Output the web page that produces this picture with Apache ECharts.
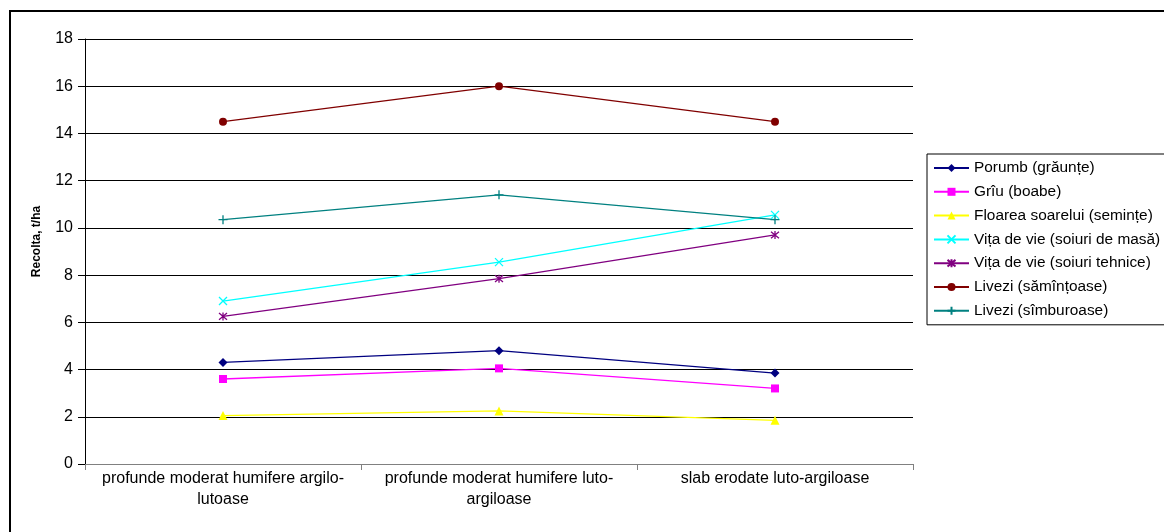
<!DOCTYPE html>
<html>
<head>
<meta charset="utf-8">
<script src="https://cdn.jsdelivr.net/npm/echarts@6/dist/echarts.min.js"></script>
<style>
    html, body { margin: 0; padding: 0; background: #fff; }
    #chart { width: 1164px; height: 532px; }
</style>
</head>
<body>
<div id="chart"></div>
<script>
// categorii (soluri)
var categories = [
    'profunde moderat humifere argilo-\nlutoase',
    'profunde moderat humifere luto-\nargiloase',
    'slab erodate luto-argiloase'
]

// recolta, t/ha
var porumb = [4.3, 4.8, 3.85]
var griu = [3.6, 4.05, 3.2]
var floarea = [2.05, 2.25, 1.85]
var vitaMasa = [6.9, 8.55, 10.55]
var vitaTehnice = [6.25, 7.85, 9.7]
var liveziSamintoase = [14.5, 16.0, 14.5]
var liveziSimburoase = [10.35, 11.4, 10.35]

var yTicks = [0, 2, 4, 6, 8, 10, 12, 14, 16, 18]

var xSymbol = 'path://M0,0L10,10M10,0L0,10'
var starSymbol = 'path://M0,0L10,10M10,0L0,10M5,-1L5,11'
var plusSymbol = 'path://M5,0L5,10M0,5L10,5'

function makeSeries(name, data, color, symbol, size, stroked) {
    return {
        name: name,
        type: 'line',
        data: data,
        symbol: symbol,
        symbolSize: size,
        lineStyle: { color: color, width: 1.3 },
        itemStyle: stroked
            ? { color: 'rgba(0,0,0,0)', borderColor: color, borderWidth: 1.3 }
            : { color: color, borderWidth: 0 },
        emphasis: { disabled: true },
        animation: false
    }
}

var chart = echarts.init(document.getElementById('chart'))

var option = {
    backgroundColor: '#fff',
    animation: false,
    textStyle: { fontFamily: 'Liberation Sans, Arial, sans-serif' },
    graphic: [{
        type: 'rect',
        shape: { x: 10, y: 11, width: 1300, height: 700 },
        style: { fill: 'none', stroke: '#000', lineWidth: 2 },
        silent: true
    }],
    grid: { left: 85, top: 39, right: 251, bottom: 68 },
    legend: {
        orient: 'vertical',
        left: 927,
        top: 154,
        padding: [6, 10, 6, 6],
        itemWidth: 35,
        itemHeight: 10,
        itemGap: 7.8,
        backgroundColor: '#fff',
        borderColor: '#000',
        borderWidth: 1,
        textStyle: { fontSize: 15.4, color: '#000', lineHeight: 16, fontFamily: 'Liberation Sans, Arial, sans-serif' }
    },
    xAxis: {
        type: 'category',
        data: categories,
        boundaryGap: true,
        axisLine: { lineStyle: { color: '#808080', width: 1 } },
        axisTick: { show: true, length: 6, inside: false, lineStyle: { color: '#808080' } },
        axisLabel: {
            margin: 4,
            fontSize: 16,
            lineHeight: 21,
            color: '#000',
            interval: 0
        }
    },
    yAxis: {
        type: 'value',
        min: yTicks[0],
        max: yTicks[yTicks.length - 1],
        interval: 2,
        name: 'Recolta, t/ha',
        nameLocation: 'middle',
        nameGap: 42,
        nameTextStyle: { fontSize: 12, fontWeight: 'bold', color: '#000', padding: [0, 0, 0, 20] },
        axisLine: { show: true, lineStyle: { color: '#000', width: 1 } },
        axisTick: { show: true, length: 7, lineStyle: { color: '#000' } },
        axisLabel: { fontSize: 16, color: '#000', margin: 12 },
        splitLine: { show: true, lineStyle: { color: '#000', width: 1 } }
    },
    series: [
        makeSeries('Porumb (grăunțe)', porumb, '#000080', 'diamond', 9, false),
        makeSeries('Grîu (boabe)', griu, '#FF00FF', 'rect', 8, false),
        makeSeries('Floarea soarelui (semințe)', floarea, '#FFFF00', 'triangle', 9, false),
        makeSeries('Vița de vie (soiuri de masă)', vitaMasa, '#00FFFF', xSymbol, 8, true),
        makeSeries('Vița de vie (soiuri tehnice)', vitaTehnice, '#800080', starSymbol, 8, true),
        makeSeries('Livezi (sămînțoase)', liveziSamintoase, '#800000', 'circle', 8, false),
        makeSeries('Livezi (sîmburoase)', liveziSimburoase, '#008080', plusSymbol, 9, true)
    ]
}

chart.setOption(option)
</script>
</body>
</html>
